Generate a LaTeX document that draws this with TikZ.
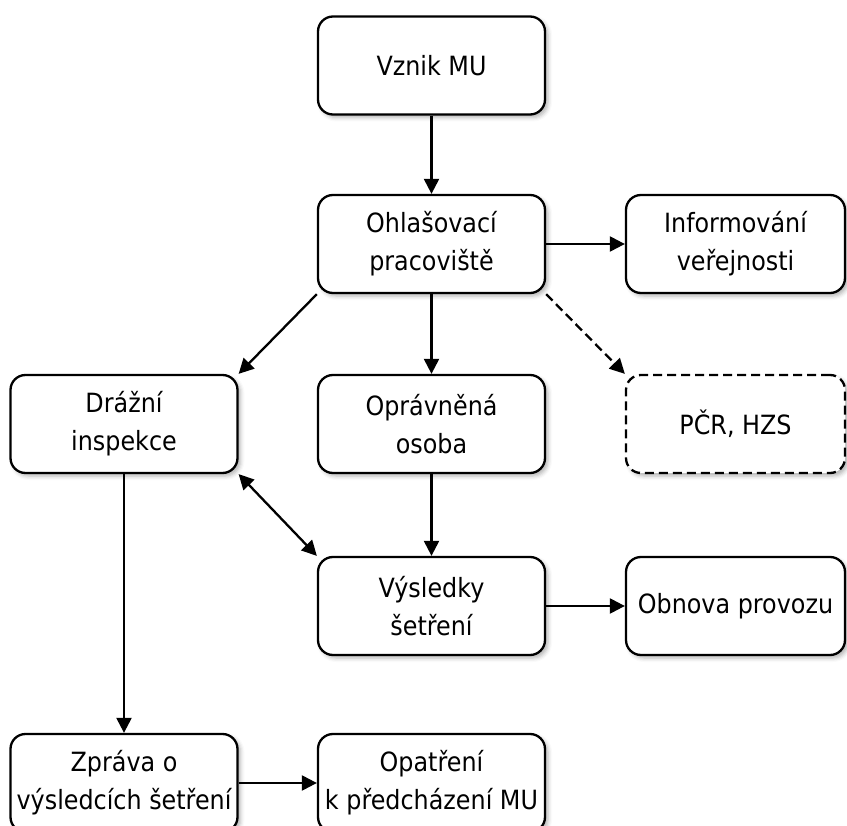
\documentclass[tikz,border=0pt]{standalone}
\usepackage{fontspec}
\setmainfont{DejaVu Sans}[FakeStretch=0.9]
\usetikzlibrary{arrows.meta,shadows.blur}

\tikzset{
  box/.style={draw=black, line width=2.3pt, rounded corners=15pt, fill=white,
    align=center, inner sep=0pt,
    font=\fontsize{26.5}{38}\selectfont,
    blur shadow={shadow xshift=3pt, shadow yshift=-3pt,
      shadow blur radius=4pt, shadow opacity=30}},
  midbox/.style={box, minimum width=227pt, minimum height=98pt},
  sidebox/.style={box, minimum width=219pt, minimum height=98pt},
  dashbox/.style={sidebox, dash pattern=on 9pt off 5pt},
  tip/.style={},
  link/.style={line width=2.3pt, -{Triangle[length=15pt,width=15pt]}},
  duallink/.style={line width=2.3pt,
    {Triangle[length=15pt,width=15pt]}-{Triangle[length=15pt,width=15pt]}},
  dashlink/.style={link, dash pattern=on 9pt off 5pt}
}

\begin{document}
\begin{tikzpicture}[x=1pt,y=-1pt]
  \useasboundingbox (0,0) rectangle (847,826);
  \begin{scope}
    \clip (0,0) rectangle (847,826);

    % first column
    \node[midbox] (drazni) at (124,424) {Drážní\\inspekce};
    \node[midbox] (zprava) at (124,783) {Zpráva o\\výsledcích šetření};

    % middle column
    \node[midbox] (vznik)   at (431.5,65.5) {Vznik MU};
    \node[midbox] (ohlas)   at (431.5,244)  {Ohlašovací\\pracoviště};
    \node[midbox] (opravn)  at (431.5,424)  {Oprávněná\\osoba};
    \node[midbox] (vysl)    at (431.5,606)  {Výsledky\\šetření};
    \node[midbox] (opatr)   at (431.5,783)  {Opatření\\k předcházení MU};

    % right column
    \node[sidebox] (inform) at (735.5,244) {Informování\\veřejnosti};
    \node[dashbox] (pcr)    at (735.5,424) {PČR, HZS};
    \node[sidebox] (obnova) at (735.5,606) {Obnova provozu};

    % connectors
    \draw[link] (vznik.south) -- (ohlas.north);
    \draw[link] (ohlas.east) -- (inform.west);
    \draw[link] (ohlas.south) -- (opravn.north);
    \draw[link] (ohlas.south west) -- (drazni.north east);
    \draw[dashlink] (ohlas.south east) -- (pcr.north west);
    \draw[duallink] (drazni.south east) -- (vysl.north west);
    \draw[link] (opravn.south) -- (vysl.north);
    \draw[link] (drazni.south) -- (zprava.north);
    \draw[link] (vysl.east) -- (obnova.west);
    \draw[link] (zprava.east) -- (opatr.west);
  \end{scope}
\end{tikzpicture}
\end{document}
